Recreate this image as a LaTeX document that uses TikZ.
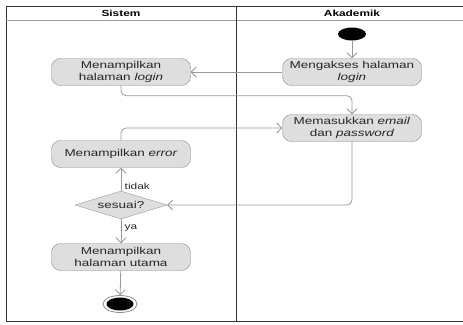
\documentclass[tikz,border=0pt]{standalone}
\usepackage{fontspec}
\setmainfont{Liberation Sans}[FakeStretch=1.35]
\usetikzlibrary{arrows.meta,shapes.geometric}

\begin{document}
\begin{tikzpicture}[x=1pt,y=-1pt,
  lane/.style={draw=black!80,line width=0.8pt},
  act/.style={draw=black!45,fill=black!13,rounded corners=9pt,align=center,
    font=\fontsize{10}{11.8}\selectfont,text=black!85,
    minimum width=139pt,minimum height=27pt,inner sep=2pt},
  cond/.style={diamond,draw=black!40,fill=black!13,aspect=3.3,
    font=\fontsize{10}{11.8}\selectfont,text=black!85,inner sep=1pt,
    minimum width=92pt,minimum height=28pt},
  guard/.style={font=\fontsize{8.8}{10}\selectfont,text=black!85},
  flow/.style={-{Straight Barb[length=5pt,width=10pt]},draw=black!40,
    line width=0.8pt,rounded corners=5pt}]
\useasboundingbox (0,0) rectangle (463,324);
\draw[lane] (463,6) -- (6,6) -- (6,321) -- (463,321);
\draw[lane,draw=black!40] (6,20) -- (463,20);
\draw[lane] (236,6) -- (236,321);
\node[font=\fontsize{8.8}{10}\selectfont\bfseries] (hsistem) at (121,13) {Sistem};
\node[font=\fontsize{8.8}{10}\selectfont\bfseries] (hakad) at (352,13) {Akademik};
\node[ellipse,fill=black,minimum width=28pt,minimum height=13pt,inner sep=0pt]
  (start) at (352,34) {};
\node[act] (akses) at (352,72) {Mengakses halaman\\\textit{login}};
\node[act] (login) at (121,72) {Menampilkan\\halaman \textit{login}};
\node[act] (input) at (352,128) {Memasukkan \textit{email}\\dan \textit{password}};
\node[act] (error) at (121,154) {Menampilkan \textit{error}};
\node[cond] (cek) at (121,205) {sesuai?};
\node[act] (utama) at (121,257) {Menampilkan\\halaman utama};
\node[ellipse,draw=black!45,line width=0.8pt,minimum width=34pt,minimum height=17pt]
  (finish) at (120,304) {};
\node[ellipse,fill=black,minimum width=27pt,minimum height=13pt,inner sep=0pt]
  at (finish) {};
\draw[flow] (start) -- (akses);
\draw[flow] (akses) -- (login);
\draw[flow] (login.south) -- ++(0,10) -| (input.north);
\draw[flow] (error.north) |- (input.west);
\draw[flow] (input.south) |- (cek.east);
\draw[flow] (cek.north) -- node[guard,anchor=west,pos=0.2] {tidak} (error.south);
\draw[flow] (cek.south) -- node[guard,anchor=west,pos=0.35] {ya} (utama.north);
\draw[flow] (utama) -- (finish);
\end{tikzpicture}
\end{document}
